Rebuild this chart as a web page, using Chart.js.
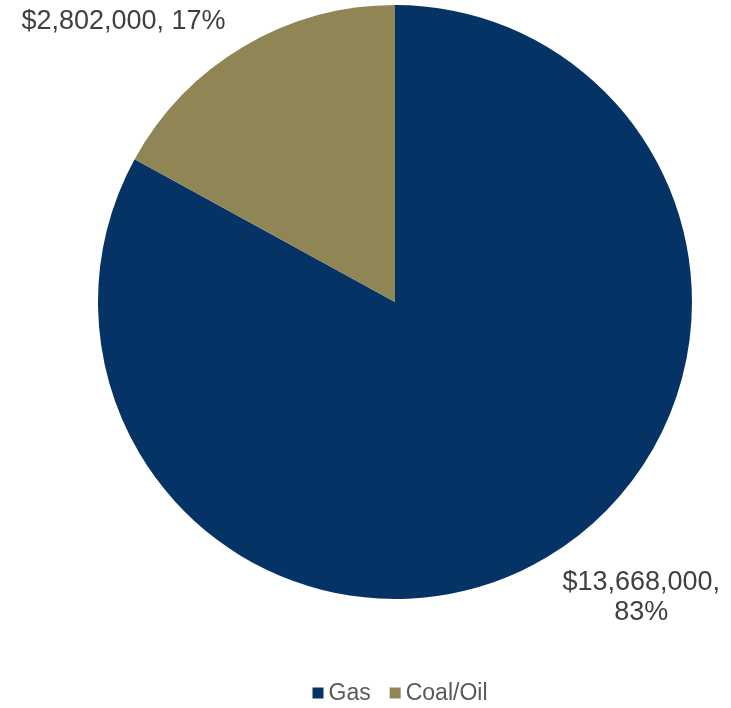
<!DOCTYPE html>
<html>
<head>
<meta charset="utf-8">
<script src="https://cdn.jsdelivr.net/npm/chart.js@4"></script>
<style>
  html, body { margin: 0; padding: 0; background: #fff; }
  #wrap { width: 731px; height: 708px; position: relative; }
</style>
</head>
<body>
<div id="wrap"><canvas id="pie"></canvas></div>
<script>
// data
const categories = ["Gas", "Coal/Oil"];
const values = [13668000, 2802000];

const sliceColors = ["#063366", "#908655"];
const FONT = "'Liberation Sans', Arial, sans-serif";

function fmtLabel(v, total) {
  return "$" + v.toLocaleString("en-US") + ", " + Math.round((v / total) * 100) + "%";
}

// ---------------------- OUTSIDE-END LABELS ------------------------
const outsideLabels = {
  id: "outsideLabels",
  afterDatasetsDraw(chart) {
    const ctx = chart.ctx;
    const meta = chart.getDatasetMeta(0);
    const data = chart.data.datasets[0].data;
    const total = data.reduce((a, b) => a + b, 0);
    const lineH = 30;

    ctx.save();
    ctx.font = "27px " + FONT;
    ctx.fillStyle = "#404040";
    ctx.textAlign = "center";
    ctx.textBaseline = "middle";

    meta.data.forEach((arc, i) => {
      const p = arc.getProps(["x", "y", "startAngle", "endAngle", "outerRadius"], true);
      const mid = (p.startAngle + p.endAngle) / 2;
      const dx = Math.cos(mid), dy = Math.sin(mid);
      let ax = p.x + (p.outerRadius + 12) * dx + (dx > 0 ? 10 : -12);
      let ay = p.y + (p.outerRadius + 12) * dy;

      // wrap at the first space if the label runs off the canvas
      const text = fmtLabel(data[i], total);
      let lines = [text];
      if (dx > 0 && ax + ctx.measureText(text).width > chart.width) {
        const cut = text.indexOf(" ");
        lines = [text.slice(0, cut), text.slice(cut + 1)];
      }
      const w = Math.max(...lines.map(l => ctx.measureText(l).width));
      const h = lines.length * lineH;
      const left = dx > 0 ? ax : ax - w;
      const top = dy > 0 ? ay : ay - h;
      lines.forEach((l, k) => {
        ctx.fillText(l, left + w / 2, top + lineH / 2 + k * lineH);
      });
    });
    ctx.restore();
  }
};

// ---------------------- BOTTOM LEGEND ------------------------
const bottomLegend = {
  id: "bottomLegend",
  afterDraw(chart) {
    const ctx = chart.ctx;
    const ds = chart.data.datasets[0];
    const box = 11, gap = 5, itemGap = 19, y = 693;
    ctx.save();
    ctx.font = "23px " + FONT;
    ctx.textBaseline = "middle";
    ctx.textAlign = "left";
    const widths = chart.data.labels.map(l => box + gap + ctx.measureText(l).width);
    const totalW = widths.reduce((a, b) => a + b, 0) + itemGap * (widths.length - 1);
    let x = (chart.chartArea.left + chart.chartArea.right) / 2 + 5 - totalW / 2;
    chart.data.labels.forEach((l, i) => {
      ctx.fillStyle = ds.backgroundColor[i];
      ctx.fillRect(x, y - box / 2, box, box);
      ctx.fillStyle = "#595959";
      ctx.fillText(l, x + box + gap, y + 1);
      x += widths[i] + itemGap;
    });
    ctx.restore();
  }
};

new Chart(document.getElementById("pie"), {
  type: "pie",
  data: {
    labels: categories,
    datasets: [{
      data: values,
      backgroundColor: sliceColors,
      borderWidth: 0
    }]
  },
  options: {
    responsive: true,
    maintainAspectRatio: false,
    animation: false,
    layout: { padding: { left: 98, right: 39, top: 5, bottom: 109 } },
    plugins: {
      legend: { display: false },
      tooltip: { enabled: false }
    }
  },
  plugins: [outsideLabels, bottomLegend]
});
</script>
</body>
</html>
